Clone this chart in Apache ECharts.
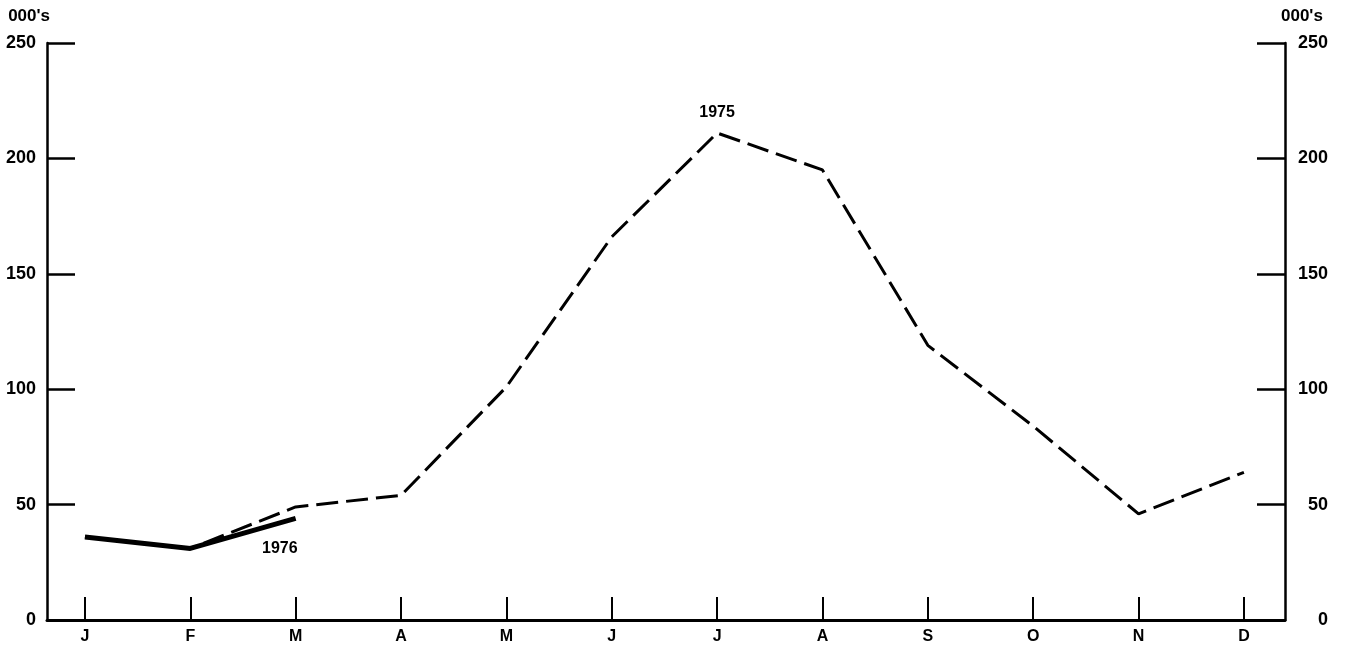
<!DOCTYPE html>
<html>
<head>
<meta charset="utf-8">
<script src="https://cdn.jsdelivr.net/npm/echarts@6/dist/echarts.min.js"></script>
<style>html,body{margin:0;padding:0;background:#fff}#c{width:1348px;height:645px}</style>
</head>
<body>
<div id="c"></div>
<script>
const months = ['J','F','M','A','M','J','J','A','S','O','N','D'];
const values1975 = [36, 31, 49, 54, 101, 166, 211, 195, 119, 84, 46, 64];
const values1976 = [36, 31, 44];
const yTicks = [0, 50, 100, 150, 200, 250];

const chart = echarts.init(document.getElementById('c'));
const font = 'Liberation Sans, Arial, sans-serif';
const monthIdx = months.map((m, i) => i);
const labelStyle = {color: '#000', fontFamily: font, fontSize: 18, fontWeight: 'bold'};
function yAxis(pos) {
  return {
    type: 'value', position: pos, min: 0, max: 250, interval: 50,
    name: "000's", nameLocation: 'end', nameGap: 18,
    nameTextStyle: {color: '#000', fontFamily: font, fontSize: 17, fontWeight: 'bold',
      align: pos === 'left' ? 'right' : 'left', padding: pos === 'left' ? [0, -3, 0, 0] : [0, 0, 0, -4]},
    axisLine: {show: true, onZero: false, lineStyle: {color: '#000', width: 2.5}},
    axisTick: {show: true, inside: true, length: 28, lineStyle: {color: '#000', width: 2.5}},
    axisLabel: Object.assign({margin: pos === 'left' ? 11 : 43, align: 'right'}, labelStyle),
    splitLine: {show: false}
  };
}
chart.setOption({
  animation: false,
  backgroundColor: '#fff',
  grid: {left: 47, right: 63, top: 43, bottom: 25, containLabel: false},
  xAxis: {
    type: 'value', min: -0.36, max: 11.39,
    axisLine: {show: true, onZero: false, lineStyle: {color: '#000', width: 3}},
    axisTick: {show: true, inside: true, length: 23, customValues: monthIdx, lineStyle: {color: '#000', width: 2}},
    axisLabel: Object.assign({margin: 9, customValues: monthIdx, formatter: v => months[Math.round(v)]}, labelStyle, {fontSize: 16}),
    splitLine: {show: false}
  },
  yAxis: [yAxis('left'), yAxis('right')],
  series: [
    {
      type: 'line', name: '1975', symbol: 'none',
      data: values1975.map((v, i) => [i, v]),
      lineStyle: {color: '#000', width: 3, type: [22, 8]},
      markPoint: {
        symbol: 'circle', symbolSize: 0,
        data: [{coord: [6, values1975[6]], value: '1975'}],
        label: {show: true, position: 'top', distance: 12, color: '#000', fontFamily: font, fontSize: 16, fontWeight: 'bold', formatter: '1975'}
      }
    },
    {
      type: 'line', name: '1976', symbol: 'none',
      data: values1976.map((v, i) => [i, v]),
      lineStyle: {color: '#000', width: 5},
      markPoint: {
        symbol: 'circle', symbolSize: 0,
        data: [{coord: [1.85, 31]}],
        label: {show: true, position: 'inside', color: '#000', fontFamily: font, fontSize: 16, fontWeight: 'bold', formatter: '1976'}
      }
    }
  ]
});
</script>
</body>
</html>
